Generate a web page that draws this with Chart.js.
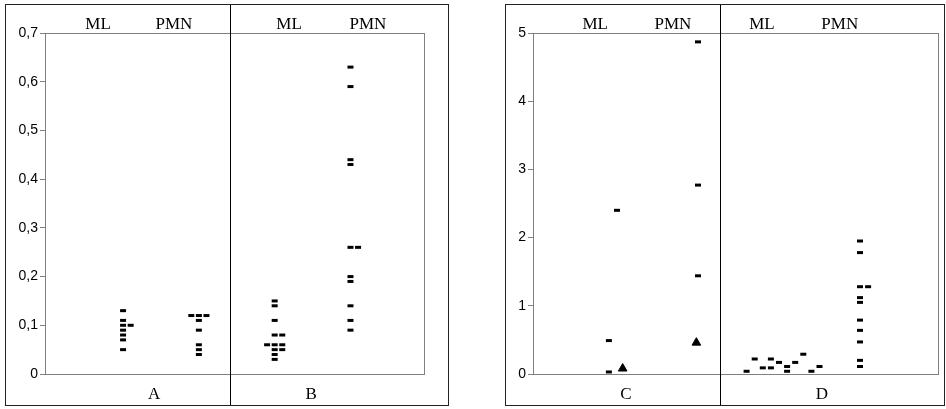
<!DOCTYPE html>
<html>
<head>
<meta charset="utf-8">
<script src="https://cdn.jsdelivr.net/npm/chart.js@4.4.0/dist/chart.umd.min.js"></script>
<style>
	body { margin: 0; background: #fff; width: 946px; height: 409px; position: relative; overflow: hidden; }
	.panel { position: absolute; top: 4px; height: 402px; border: 1px solid #222; box-sizing: border-box; }
	#panel-left { left: 5px; width: 444px; }
	#panel-right { left: 505px; width: 440px; }
	.panel canvas { display: block; }
</style>
</head>
<body>
<div class="panel" id="panel-left"><canvas id="chart-left" width="442" height="400"></canvas></div>
<div class="panel" id="panel-right"><canvas id="chart-right" width="438" height="400"></canvas></div>
<script>
'use strict';

// groups: ML / PMN under conditions A, B, C, D
var group_labels = ['ML', 'PMN'];
var panel_labels = ['A', 'B', 'C', 'D'];

// y tick ranges
var left_ticks = { min: 0, max: 0.7, step: 0.1 };
var right_ticks = { min: 0, max: 5, step: 1 };

// values, with the sideways shift (in jitter steps) of duplicates
var ml_a = [0.13, 0.11, 0.10, 0.10, 0.09, 0.08, 0.07, 0.05];
var ml_a_shift = [0, 0, 0, 1, 0, 0, 0, 0];
var pmn_a = [0.12, 0.12, 0.12, 0.11, 0.09, 0.06, 0.05, 0.04];
var pmn_a_shift = [-1, 0, 1, 0, 0, 0, 0, 0];
var ml_b = [0.15, 0.14, 0.11, 0.08, 0.08, 0.06, 0.06, 0.06, 0.05, 0.05, 0.04, 0.03];
var ml_b_shift = [0, 0, 0, 0, 1, -1, 0, 1, 0, 1, 0, 0];
var pmn_b = [0.63, 0.59, 0.44, 0.43, 0.26, 0.26, 0.20, 0.19, 0.14, 0.11, 0.09];
var pmn_b_shift = [0, 0, 0, 0, 0, 1, 0, 0, 0, 0, 0];

var ml_c = [2.40, 0.49, 0.03];
var ml_c_shift = [0, -1, -1];
var pmn_c = [4.87, 2.77, 1.44];
var pmn_c_shift = [0, 0, 0];
var tri_c = [0.08, 0.46];
var tri_c_shift = [0.7, -0.2];
var ml_d = [0.04, 0.22, 0.09, 0.22, 0.09, 0.17, 0.11, 0.04, 0.17, 0.29, 0.04, 0.11];
var ml_d_shift = [-4, -3, -2, -1, -1, 0, 1, 1, 2, 3, 4, 5];
var pmn_d = [1.95, 1.78, 1.28, 1.28, 1.12, 1.05, 0.79, 0.64, 0.47, 0.20, 0.11];
var pmn_d_shift = [0, 0, 0, 1, 0, 0, 0, 0, 0, 0, 0];

var jitter_step = 0.1;

function build_points( values, shifts, base ) {
	return values.map(function( v, i ) {
		return { x: base + shifts[i] * jitter_step, y: v };
	});
}

function dash_set( points ) {
	return {
		data: points,
		pointStyle: 'line',
		pointRadius: 3,
		pointHoverRadius: 3,
		borderWidth: 3,
		borderColor: '#000',
		backgroundColor: '#000',
		showLine: false
	};
}

function tri_set( points ) {
	return {
		data: points,
		pointStyle: 'triangle',
		pointRadius: 5,
		pointHoverRadius: 5,
		borderWidth: 1,
		borderColor: '#000',
		backgroundColor: '#000',
		showLine: false
	};
}

var panel_decor = {
	id: 'panelDecor',
	beforeDatasetsDraw: function( chart ) {
		var a = chart.chartArea;
		var ctx = chart.ctx;
		ctx.save();
		ctx.strokeStyle = '#808080';
		ctx.lineWidth = 1;
		ctx.strokeRect(Math.round(a.left) + 0.5, Math.round(a.top) + 0.5, Math.round(a.right - a.left), Math.round(a.bottom - a.top));
		ctx.restore();
	},
	afterDraw: function( chart ) {
		var o = chart.options.plugins.panelDecor;
		var xs = chart.scales.x;
		var ctx = chart.ctx;
		ctx.save();

		// separator between the two conditions
		var sx = Math.round(xs.getPixelForValue(o.separator)) + 0.5;
		ctx.strokeStyle = '#000';
		ctx.lineWidth = 1;
		ctx.beginPath();
		ctx.moveTo(sx, 0);
		ctx.lineTo(sx, chart.height);
		ctx.stroke();

		ctx.fillStyle = '#000';
		ctx.font = '17px "Liberation Serif"';
		ctx.textAlign = 'center';
		ctx.textBaseline = 'alphabetic';
		o.top_x.forEach(function( x, i ) {
			ctx.fillText(group_labels[i % 2], xs.getPixelForValue(x), 24);
		});
		o.bottom_x.forEach(function( x, i ) {
			ctx.fillText(o.bottom_text[i], xs.getPixelForValue(x), 394);
		});
		ctx.restore();
	}
};

function make_panel( canvas_id, cfg ) {
	return new Chart(document.getElementById(canvas_id), {
		type: 'scatter',
		data: { datasets: cfg.datasets },
		options: {
			responsive: false,
			animation: false,
			events: [],
			layout: { padding: { left: 0, top: 28, right: cfg.pad_right, bottom: 31 } },
			plugins: {
				legend: { display: false },
				tooltip: { enabled: false },
				panelDecor: cfg.decor
			},
			scales: {
				x: { type: 'linear', display: false, min: cfg.x_min, max: cfg.x_min + 5 },
				y: {
					min: cfg.ticks.min,
					max: cfg.ticks.max,
					afterFit: function( scale ) { scale.width = cfg.axis_width; },
					ticks: {
						stepSize: cfg.ticks.step,
						color: '#000',
						padding: 2,
						font: { family: 'Liberation Sans', size: 14 },
						callback: function( value ) {
							return (Math.round(value * 10) / 10).toString().replace('.', ',');
						}
					},
					grid: { drawOnChartArea: false, drawTicks: true, tickLength: 5, color: '#808080' },
					border: { display: true, color: '#808080' }
				}
			}
		},
		plugins: [panel_decor]
	});
}

make_panel('chart-left', {
	x_min: -0.03,
	axis_width: 39,
	pad_right: 24,
	ticks: left_ticks,
	datasets: [
		dash_set(build_points(ml_a, ml_a_shift, 1)),
		dash_set(build_points(pmn_a, pmn_a_shift, 2)),
		dash_set(build_points(ml_b, ml_b_shift, 3)),
		dash_set(build_points(pmn_b, pmn_b_shift, 4))
	],
	decor: {
		separator: 2.41,
		top_x: [0.67, 1.67, 3.19, 4.23],
		bottom_x: [1.41, 3.48],
		bottom_text: [panel_labels[0], panel_labels[1]]
	}
});

make_panel('chart-right', {
	x_min: -0.037,
	axis_width: 27,
	pad_right: 6,
	ticks: right_ticks,
	datasets: [
		dash_set(build_points(ml_c, ml_c_shift, 1)),
		dash_set(build_points(pmn_c, pmn_c_shift, 2)),
		tri_set(build_points(tri_c, tri_c_shift, 1).map(function( p, i ) { return { x: p.x + i, y: p.y }; })),
		dash_set(build_points(ml_d, ml_d_shift, 3)),
		dash_set(build_points(pmn_d, pmn_d_shift, 4))
	],
	decor: {
		separator: 2.27,
		top_x: [0.73, 1.69, 2.79, 3.75],
		bottom_x: [1.11, 3.53],
		bottom_text: [panel_labels[2], panel_labels[3]]
	}
});
</script>
</body>
</html>
